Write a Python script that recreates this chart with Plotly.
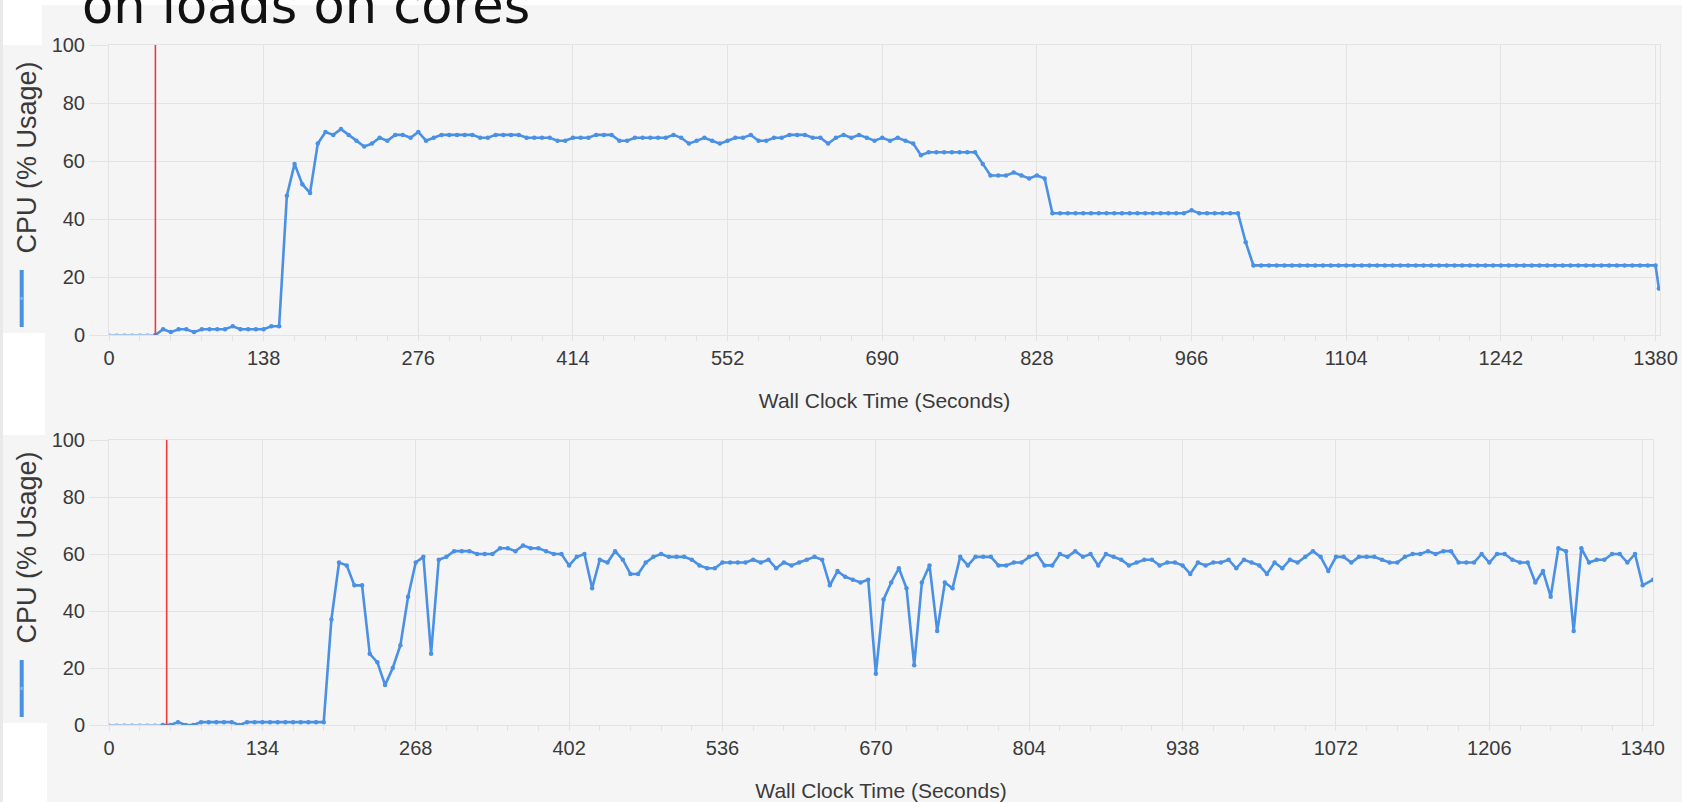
import plotly.graph_objects as go

W, H = 1682, 802

# ---- data -------------------------------------------------------------
# CPU utilisation samples; the profiler samples at a fixed interval and
# emits one final partial sample when the trace stops.
top_interval = 6.9          # seconds between samples, first run
bottom_interval = 6.7       # seconds between samples, second run
top_final_time = 1383.0
bottom_final_time = 1349.0

top_cpu = [
    0, 0, 0, 0, 0, 0, 0,
    2, 1, 2, 2, 1, 2, 2, 2, 2, 3, 2, 2, 2, 2, 3, 3,
    48, 59, 52, 49, 66, 70, 69, 71, 69, 67, 65, 66, 68, 67, 69, 69, 68, 70,
    67, 68, 69, 69, 69, 69, 69, 68, 68, 69, 69, 69, 69, 68, 68, 68, 68, 67,
    67, 68, 68, 68, 69,
    69, 69, 67, 67, 68, 68, 68, 68, 68, 69, 68, 66, 67, 68, 67, 66, 67, 68,
    68, 69, 67, 67, 68, 68, 69, 69, 69, 68, 68, 66, 68, 69, 68, 69, 68, 67,
    68, 67, 68, 67, 66, 62, 63, 63, 63, 63, 63, 63, 63, 59, 55, 55, 55, 56,
    55, 54, 55, 54,
    42, 42, 42, 42, 42, 42, 42, 42, 42, 42, 42, 42, 42, 42, 42, 42, 42, 42,
    43, 42, 42, 42, 42, 42, 42, 32,
    24, 24, 24, 24, 24, 24, 24, 24, 24, 24, 24, 24, 24, 24, 24, 24, 24, 24,
    24, 24, 24, 24, 24, 24, 24, 24, 24, 24, 24, 24, 24, 24, 24, 24, 24, 24,
    24, 24, 24, 24, 24, 24, 24, 24, 24, 24, 24, 24, 24, 24, 24, 24, 24,
    16,
]

bottom_cpu = [
    0, 0, 0, 0, 0, 0, 0, 0, 0, 1, 0, 0, 1, 1, 1, 1, 1, 0,
    1, 1, 1, 1, 1, 1, 1, 1, 1, 1, 1,
    37, 57, 56, 49, 49, 25, 22, 14, 20, 28, 45, 57, 59, 25, 58, 59, 61, 61,
    61, 60, 60, 60, 62, 62, 61, 63, 62, 62, 61, 60, 60, 56, 59, 60, 48, 58,
    57, 61, 58, 53, 53, 57, 59, 60, 59, 59, 59, 58, 56, 55, 55, 57, 57, 57,
    57, 58, 57, 58, 55, 57, 56, 57, 58, 59, 58, 49, 54, 52, 51, 50, 51, 18,
    44, 50, 55, 48, 21, 50, 56, 33, 50, 48, 59, 56, 59, 59, 59, 56, 56, 57,
    57, 59, 60, 56, 56, 60, 59, 61, 59, 60, 56,
    60, 59, 58, 56, 57, 58, 58, 56, 57, 57, 56, 53, 57, 56, 57, 57, 58, 55,
    58, 57, 56, 53, 57, 55, 58, 57, 59, 61, 59, 54, 59, 59, 57, 59, 59, 59,
    58, 57, 57, 59, 60, 60, 61, 60, 61, 61, 57, 57, 57, 60, 57, 60, 60, 58,
    57, 57, 50, 54, 45, 62, 61, 33, 62, 57, 58, 58, 60, 60, 57, 60,
    49,
    51,
]

top_time = [round(i * top_interval, 2) for i in range(len(top_cpu) - 1)] + [top_final_time]
bottom_time = [round(i * bottom_interval, 2) for i in range(len(bottom_cpu) - 1)] + [bottom_final_time]

# time of the start marker (red cursor) in each run
top_marker_time = 41.4
bottom_marker_time = 50.4

top_xticks = [0, 138, 276, 414, 552, 690, 828, 966, 1104, 1242, 1380]
bottom_xticks = [0, 134, 268, 402, 536, 670, 804, 938, 1072, 1206, 1340]
y_ticks = [0, 20, 40, 60, 80, 100]

# ---- styling ------------------------------------------------------------
BG = "#f5f5f5"
GRID = "#e3e3e3"
TXT = "#3a3a3a"
LINE = "#4a90e4"
FADED = "#a8c8f0"
CURSOR = "#f03a3a"
TICK_FONT = "Liberation Sans Narrow, Arial Narrow, Liberation Sans, Arial, sans-serif"
TITLE_FONT = "Liberation Sans, Arial, sans-serif"


def px(x):
    return x / W


def py(y):
    return 1 - y / H


fig = go.Figure()


def add_run(times, values, marker_time, xa, ya):
    pre = [i for i, t in enumerate(times) if t <= marker_time]
    split = pre[-1]
    # samples before the cursor are drawn faded
    fig.add_trace(go.Scatter(
        x=times[:split + 1], y=values[:split + 1], xaxis=xa, yaxis=ya,
        mode="lines+markers", line=dict(color=FADED, width=2),
        marker=dict(color=FADED, size=4), showlegend=False, hoverinfo="skip"))
    fig.add_trace(go.Scatter(
        x=times[split:], y=values[split:], xaxis=xa, yaxis=ya,
        mode="lines+markers", line=dict(color=LINE, width=2.6),
        marker=dict(color=LINE, size=4.5), showlegend=False))
    fig.add_trace(go.Scatter(
        x=[marker_time, marker_time], y=[0, 100], xaxis=xa, yaxis=ya,
        mode="lines", line=dict(color=CURSOR, width=1.6),
        showlegend=False, hoverinfo="skip"))


add_run(top_time, top_cpu, top_marker_time, "x", "y")
add_run(bottom_time, bottom_cpu, bottom_marker_time, "x2", "y2")


def x_axis(domain, rng, ticks, minor_step, anchor):
    return dict(
        domain=domain, range=rng, anchor=anchor,
        tickmode="array", tickvals=ticks, ticktext=[str(t) for t in ticks],
        showgrid=True, gridcolor=GRID, gridwidth=1, zeroline=False,
        showline=True, linecolor=GRID, linewidth=1, mirror=True,
        ticks="outside", ticklen=5, tickcolor=GRID, tickwidth=1,
        minor=dict(ticks="outside", ticklen=5, tickcolor=GRID, tick0=0,
                   dtick=minor_step, showgrid=False),
        tickfont=dict(family=TICK_FONT, size=20, color=TXT),
        title=dict(text="Wall Clock Time (Seconds)", standoff=25,
                   font=dict(family=TICK_FONT, size=21, color=TXT)),
        automargin=False, fixedrange=True,
    )


def y_axis(domain, anchor):
    return dict(
        domain=domain, range=[0, 100], anchor=anchor,
        tickmode="array", tickvals=y_ticks,
        showgrid=True, gridcolor=GRID, gridwidth=1, zeroline=False,
        showline=True, linecolor=GRID, linewidth=1, mirror=True,
        ticks="outside", ticklen=19, tickcolor=GRID, tickwidth=1,
        tickfont=dict(family=TICK_FONT, size=20, color=TXT),
        automargin=False, fixedrange=True,
    )


top_dom_y = [py(335), py(45)]
bot_dom_y = [py(725), py(440)]

fig.update_layout(
    width=W, height=H, autosize=False,
    margin=dict(l=0, r=0, t=0, b=0, pad=0),
    paper_bgcolor=BG, plot_bgcolor=BG,
    xaxis=x_axis([px(109), px(1660)], [0, 1384], top_xticks, 27.6, "y"),
    yaxis=y_axis(top_dom_y, "x"),
    xaxis2=x_axis([px(109), px(1653)], [0, 1349], bottom_xticks, 26.8, "y2"),
    yaxis2=y_axis(bot_dom_y, "x2"),
)

# window chrome around the charts
shapes = [
    dict(x0=0, x1=px(3), y0=0, y1=1, fillcolor="#e8eaea"),
    dict(x0=px(3), x1=px(42), y0=py(45), y1=1, fillcolor="white"),
    dict(x0=px(3), x1=px(45), y0=py(435), y1=py(333), fillcolor="white"),
    dict(x0=px(3), x1=px(47), y0=0, y1=py(723), fillcolor="white"),
    dict(x0=px(42), x1=1, y0=py(5), y1=1, fillcolor="white"),
]
for s in shapes:
    fig.add_shape(type="rect", xref="paper", yref="paper", layer="below",
                  line=dict(width=0), **s)

# vertical legend glyph + rotated axis caption for each chart
for title_c, glyph_top, glyph_bot in [(157.5, 270, 327), (547.5, 660, 717)]:
    fig.add_annotation(
        text="CPU (% Usage)", textangle=-90, showarrow=False,
        xref="paper", yref="paper", x=px(26), y=py(title_c),
        xanchor="center", yanchor="middle",
        font=dict(family=TITLE_FONT, size=27, color=TXT))
    fig.add_shape(type="line", xref="paper", yref="paper",
                  x0=px(21.7), x1=px(21.7), y0=py(glyph_bot), y1=py(glyph_top),
                  line=dict(color=LINE, width=4))
    mid = (glyph_top + glyph_bot) / 2
    fig.add_shape(type="circle", xref="paper", yref="paper",
                  x0=px(20), x1=px(23.4), y0=py(mid + 1.7), y1=py(mid - 1.7),
                  fillcolor="#7fb0ee", line=dict(width=0))

# slide heading, cut off by the top edge
fig.add_annotation(
    text="on loads on cores", showarrow=False,
    xref="paper", yref="paper", x=px(80), y=py(5.5),
    xanchor="left", yanchor="middle",
    font=dict(family="DejaVu Sans, sans-serif", size=51, color="#111111"))

fig.write_html("out.html")
